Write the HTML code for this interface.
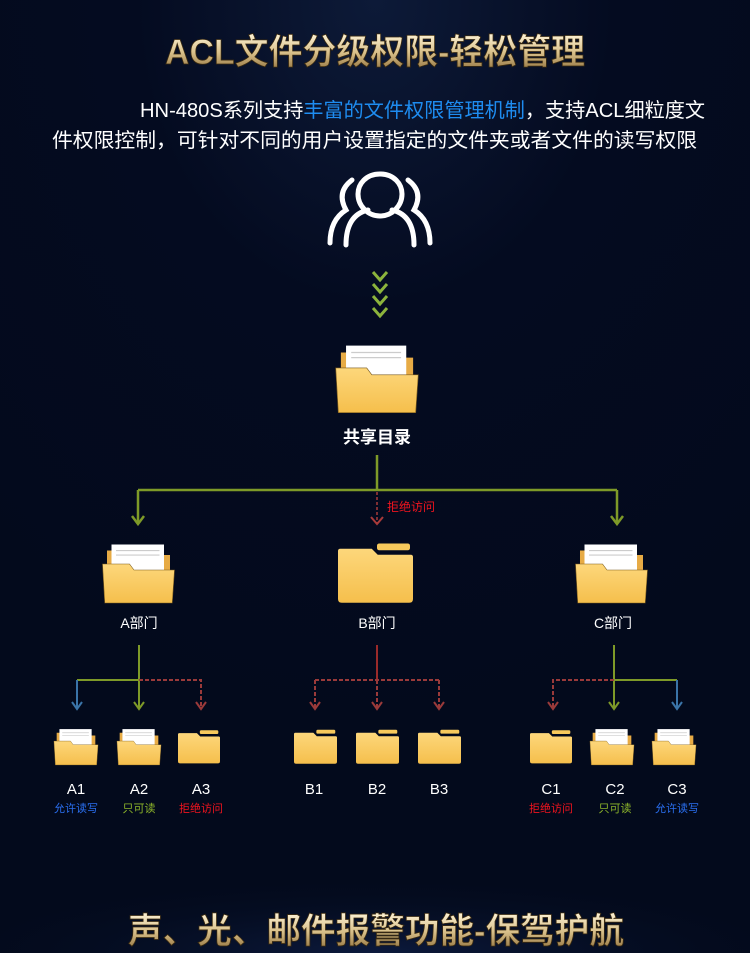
<!DOCTYPE html>
<html><head><meta charset="utf-8"><style>
html,body{margin:0;padding:0;background:#030a1d;}
svg{display:block;}
text{font-family:"Liberation Sans","Noto Sans CJK SC",sans-serif;}
</style></head><body>
<svg width="750" height="953" viewBox="0 0 750 953" xmlns="http://www.w3.org/2000/svg">
<defs>
<radialGradient id="bg" cx="50%" cy="0%" r="80%"><stop offset="0" stop-color="#0d1a38"/><stop offset="0.4" stop-color="#040b20"/><stop offset="1" stop-color="#030a1c"/></radialGradient>
<radialGradient id="bg2" cx="50%" cy="100%" r="60%"><stop offset="0" stop-color="#0c1a3d"/><stop offset="1" stop-color="#030a1c" stop-opacity="0"/></radialGradient>
<linearGradient id="gold" x1="0" y1="0" x2="0" y2="1"><stop offset="0" stop-color="#fff4d8"/><stop offset="0.5" stop-color="#d9c08a"/><stop offset="1" stop-color="#8e6f3a"/></linearGradient>
<linearGradient id="fy" x1="0" y1="0" x2="0" y2="1"><stop offset="0" stop-color="#fdd77b"/><stop offset="1" stop-color="#f5bf4c"/></linearGradient>
<symbol id="open" viewBox="0 0 100 80">
<path d="M8 8 h28 l6 6 h50 v62 H8z" fill="#e7ab45"/>
<rect x="14" y="0" width="70" height="40" fill="#fff"/>
<line x1="20" y1="8" x2="78" y2="8" stroke="#ccc" stroke-width="1.5"/>
<line x1="20" y1="14" x2="78" y2="14" stroke="#ccc" stroke-width="1.5"/>
<path d="M2 26 h36 l6 8 h54 l-3 44 H5z" fill="url(#fy)" stroke="#7a5a1c" stroke-width="0.8"/>
</symbol>
<symbol id="closed" viewBox="0 0 100 80">
<rect x="52" y="0" width="44" height="9" rx="3" fill="#f7c95c"/>
<path d="M0 10 q0-3 3-3 h42 l8 8 h44 q3 0 3 3 v56 q0 5-5 5 H5 q-5 0-5-5z" fill="url(#fy)"/>
</symbol>
</defs>
<rect width="750" height="953" fill="url(#bg)"/>
<rect y="820" width="750" height="133" fill="url(#bg2)"/>
<text x="375" y="64" text-anchor="middle" font-size="35" font-weight="bold" fill="url(#gold)" stroke="#3a2a10" stroke-width="0.8" textLength="420" lengthAdjust="spacingAndGlyphs">ACL文件分级权限-轻松管理</text>
<text x="140" y="117" font-size="20" fill="#fff" textLength="565" lengthAdjust="spacingAndGlyphs">HN-480S系列支持<tspan fill="#1e8cf0">丰富的文件权限管理机制</tspan>，支持ACL细粒度文</text>
<text x="52" y="147" font-size="20" fill="#fff" textLength="645" lengthAdjust="spacingAndGlyphs">件权限控制，可针对不同的用户设置指定的文件夹或者文件的读写权限</text>
<!-- users icon -->
<g fill="none" stroke="#fff" stroke-width="5" stroke-linecap="round">
<path d="M380 174 c14 0 22 10 22 20 c0 12 -10 22 -22 22 c-12 0 -22 -10 -22 -22 c0 -10 8 -20 22 -20z"/>
<path d="M346 245 q0-30 22-35 M414 245 q0-30 -22-35"/>
<path d="M352 180 q-16 12 -6 30 q-16 10 -16 33"/>
<path d="M408 180 q16 12 6 30 q16 10 16 33"/>
</g>
<g fill="none" stroke="#8cb43c" stroke-width="3">
<polyline points="373,272 380,280 387,272"/>
<polyline points="373,284 380,292 387,284"/>
<polyline points="373,296 380,304 387,296"/>
<polyline points="373,308 380,316 387,308"/>
</g>
<use href="#open" x="334" y="344" width="86" height="72"/>
<text x="377" y="443" text-anchor="middle" font-size="17" font-weight="bold" fill="#fff">共享目录</text>
<g fill="none" stroke-width="2.5">
<path d="M377 455 V490 M138 490 H617 M138 490 V523 M617 490 V523" stroke="#7e9a28"/>
<polyline points="132,516 138,524 144,516" stroke="#7e9a28"/>
<polyline points="611,516 617,524 623,516" stroke="#7e9a28"/>
<path d="M377 492 V523" stroke="#a83a3a" stroke-dasharray="3,2" stroke-width="1.5"/>
<polyline points="371,517 377,524 383,517" stroke="#a83a3a" stroke-width="2"/>
</g>
<text x="387" y="511" font-size="12" fill="#f0141e">拒绝访问</text>
<use href="#open" x="101" y="543" width="75" height="63"/>
<use href="#closed" x="338" y="540" width="75" height="67"/>
<use href="#open" x="574" y="543" width="75" height="63"/>
<text x="139" y="628" text-anchor="middle" font-size="14" fill="#fff">A部门</text>
<text x="377" y="628" text-anchor="middle" font-size="14" fill="#fff">B部门</text>
<text x="613" y="628" text-anchor="middle" font-size="14" fill="#fff">C部门</text>
<g fill="none" stroke-width="2">
<path d="M139 645 V708 M139 680 H77" stroke="#7e9a28"/>
<path d="M77 680 V708" stroke="#3a74a8"/>
<path d="M139 680 H201 V708" stroke="#9a3a3a" stroke-dasharray="4,2"/>
<polyline points="72,702 77,709 82,702" stroke="#3a74a8"/>
<polyline points="134,702 139,709 144,702" stroke="#7e9a28"/>
<polyline points="196,702 201,709 206,702" stroke="#9a3a3a"/>
<path d="M377 645 V680" stroke="#9a2a2a"/>
<path d="M315 680 H439 M315 680 V708 M377 680 V708 M439 680 V708" stroke="#9a3a3a" stroke-dasharray="4,2"/>
<polyline points="310,702 315,709 320,702" stroke="#9a3a3a"/>
<polyline points="372,702 377,709 382,702" stroke="#9a3a3a"/>
<polyline points="434,702 439,709 444,702" stroke="#9a3a3a"/>
<path d="M614 645 V708 M614 680 H677" stroke="#7e9a28"/>
<path d="M677 680 V708" stroke="#3a74a8"/>
<path d="M614 680 H553 V708" stroke="#9a3a3a" stroke-dasharray="4,2"/>
<polyline points="548,702 553,709 558,702" stroke="#9a3a3a"/>
<polyline points="609,702 614,709 619,702" stroke="#7e9a28"/>
<polyline points="672,702 677,709 682,702" stroke="#3a74a8"/>
</g>
<use href="#open" x="53" y="728" width="46" height="39"/>
<use href="#open" x="116" y="728" width="46" height="39"/>
<use href="#closed" x="178" y="729" width="42" height="36"/>
<use href="#closed" x="294" y="729" width="43" height="36"/>
<use href="#closed" x="356" y="729" width="43" height="36"/>
<use href="#closed" x="418" y="729" width="43" height="36"/>
<use href="#closed" x="530" y="729" width="42" height="36"/>
<use href="#open" x="589" y="728" width="46" height="39"/>
<use href="#open" x="651" y="728" width="46" height="39"/>
<g font-size="15" fill="#fff" text-anchor="middle">
<text x="76" y="794">A1</text><text x="139" y="794">A2</text><text x="201" y="794">A3</text>
<text x="314" y="794">B1</text><text x="377" y="794">B2</text><text x="439" y="794">B3</text>
<text x="551" y="794">C1</text><text x="615" y="794">C2</text><text x="677" y="794">C3</text>
</g>
<g font-size="11" text-anchor="middle">
<text x="76" y="812" fill="#2a6ff0">允许读写</text>
<text x="139" y="812" fill="#8cb42a">只可读</text>
<text x="201" y="812" fill="#f0141e">拒绝访问</text>
<text x="551" y="812" fill="#f0141e">拒绝访问</text>
<text x="615" y="812" fill="#8cb42a">只可读</text>
<text x="677" y="812" fill="#2a6ff0">允许读写</text>
</g>
<text x="376" y="943" text-anchor="middle" font-size="35" font-weight="bold" fill="url(#gold)" stroke="#3a2a10" stroke-width="0.8" textLength="496" lengthAdjust="spacingAndGlyphs">声、光、邮件报警功能-保驾护航</text>
</svg>
</body></html>
